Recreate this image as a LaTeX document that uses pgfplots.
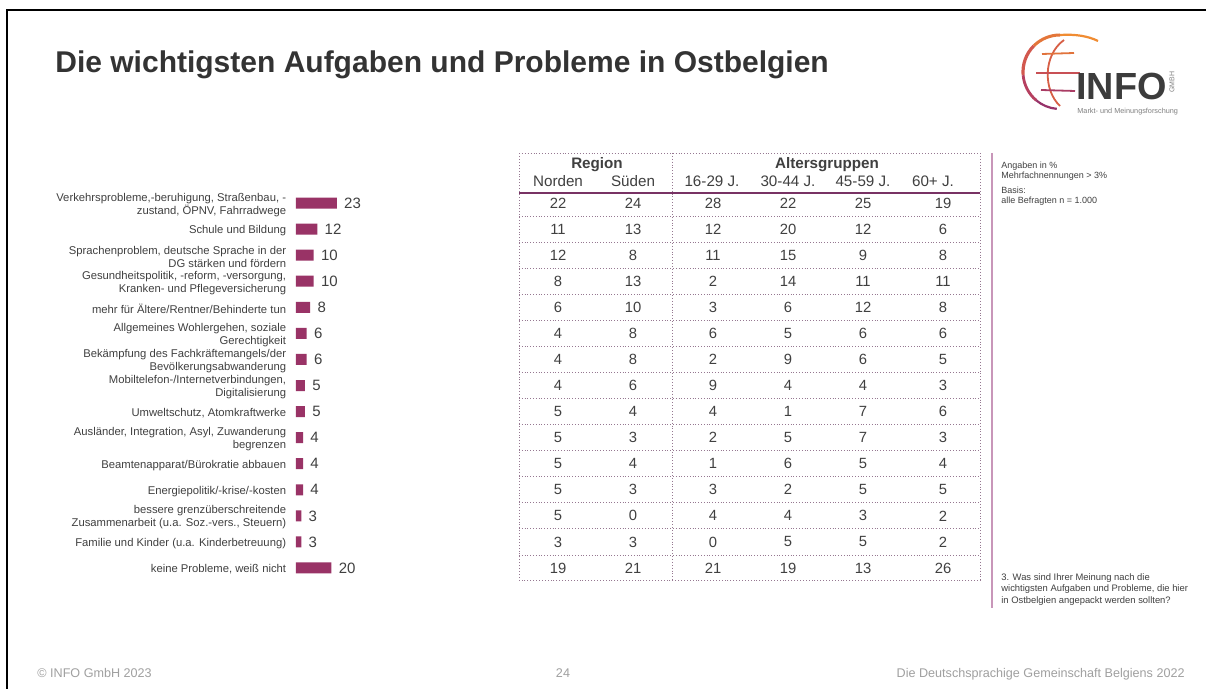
\documentclass[border=0pt]{standalone}
\usepackage{fontspec}
\setmainfont{Liberation Sans}
\usepackage{pgfplots}
\usepackage{pgfplotstable}
\pgfplotsset{compat=1.18}

\definecolor{barpurple}{RGB}{153,51,102}
\definecolor{txt}{RGB}{64,64,64}
\definecolor{ttl}{RGB}{51,51,51}
\definecolor{rulec}{RGB}{120,50,100}
\definecolor{dotc}{RGB}{150,120,145}
\definecolor{side}{RGB}{200,150,185}
\definecolor{foot}{RGB}{160,160,160}
\newcommand\fs[2]{\fontsize{#1}{#2}\selectfont}

% total = Gesamt, N/S = Region, a-d = Altersgruppen
\pgfplotstableread{
total N S a b c d
23 22 24 28 22 25 19
12 11 13 12 20 12 6
10 12 8 11 15 9 8
10 8 13 2 14 11 11
8 6 10 3 6 12 8
6 4 8 6 5 6 6
6 4 8 2 9 6 5
5 4 6 9 4 4 3
5 5 4 4 1 7 6
4 5 3 2 5 7 3
4 5 4 1 6 5 4
4 5 3 3 2 5 5
3 5 0 4 4 3 2
3 3 3 0 5 5 2
20 19 21 21 19 13 26
}\data

\begin{document}
\begin{tikzpicture}[x=0.5pt,y=-0.5pt]
\fill[white] (0,0) rectangle (1206,689);
\draw[black, line width=1.1pt] (7,689) -- (7,10) -- (1206,10);
\coordinate (barorigin) at (296,190);
\coordinate (pageorigin) at (0,0);

% title
\node[anchor=base west, inner sep=0pt, text=ttl, font=\fs{15}{18}\bfseries] at (55,73)
  {Die wichtigsten Aufgaben und Probleme in Ostbelgien};

% logo
\draw[line width=1.1pt, color={rgb,255:red,240;green,140;blue,50}] (1098,41) .. controls (1088,36) and (1075,34) .. (1060,35);
\draw[line width=1.5pt, color={rgb,255:red,228;green,118;blue,58}] ([shift={(90:18.5pt)}]1060,72) arc[start angle=90, end angle=135, radius=18.5pt];
\draw[line width=1.6pt, color={rgb,255:red,210;green,88;blue,78}] ([shift={(135:18.5pt)}]1060,72) arc[start angle=135, end angle=185, radius=18.5pt];
\draw[line width=1.4pt, color={rgb,255:red,182;green,64;blue,96}] ([shift={(185:18.5pt)}]1060,72) arc[start angle=185, end angle=230, radius=18.5pt];
\draw[line width=1.1pt, color={rgb,255:red,150;green,50;blue,105}] ([shift={(230:18.5pt)}]1060,72) arc[start angle=230, end angle=265, radius=18.5pt];
\draw[line width=0.9pt, color={rgb,255:red,215;green,95;blue,70}] (1064,40) .. controls (1043,55) and (1043,90) .. (1060,106);
\draw[line width=0.9pt, color={rgb,255:red,225;green,115;blue,60}] (1042,54) -- (1074,53);
\draw[line width=0.9pt, color={rgb,255:red,200;green,80;blue,85}] (1036,73) -- (1080,73);
\draw[line width=0.9pt, color={rgb,255:red,170;green,60;blue,100}] (1041,90) -- (1075,91);
\node[anchor=base west, inner sep=0pt, text={rgb,255:red,60;green,60;blue,60}, font=\fs{18.9}{20}\bfseries] at (1076,100) {INFO};
\node[rotate=90, inner sep=0pt, text=gray, font=\fs{3.5}{4}] at (1172,82) {GMBH};
\node[anchor=base west, inner sep=0pt, text=gray, font=\fs{3.65}{4}] at (1077,114) {Markt- und Meinungsforschung};

% bar chart
\begin{axis}[
  at={(barorigin)}, anchor=north west,
  scale only axis, width=26.625pt, height=195.5pt,
  xbar, bar width=5.5pt,
  xmin=0, xmax=30, ymin=-0.5, ymax=14.5, y dir=reverse,
  axis line style={draw=none}, tick style={draw=none},
  xtick=\empty, ytick={0,...,14},
  yticklabels={
    {Verkehrsprobleme,-beruhigung, Straßenbau, -\\zustand, ÖPNV, Fahrradwege},
    {Schule und Bildung},
    {Sprachenproblem, deutsche Sprache in der\\DG stärken und fördern},
    {Gesundheitspolitik, -reform, -versorgung,\\Kranken- und Pflegeversicherung},
    {mehr für Ältere/Rentner/Behinderte tun},
    {Allgemeines Wohlergehen, soziale\\Gerechtigkeit},
    {Bekämpfung des Fachkräftemangels/der\\Bevölkerungsabwanderung},
    {Mobiltelefon-/Internetverbindungen,\\Digitalisierung},
    {Umweltschutz, Atomkraftwerke},
    {Ausländer, Integration, Asyl, Zuwanderung\\begrenzen},
    {Beamtenapparat/Bürokratie abbauen},
    {Energiepolitik/-krise/-kosten},
    {bessere grenzüberschreitende\\Zusammenarbeit (u.a. Soz.-vers., Steuern)},
    {Familie und Kinder (u.a. Kinderbetreuung)},
    {keine Probleme, weiß nicht}},
  yticklabel style={font=\fs{5.63}{6.5}, align=right, text=txt, inner sep=0pt, xshift=-0.5pt, yshift=-0.8pt},
  nodes near coords,
  nodes near coords style={font=\fs{7.5}{9}, text=txt, inner sep=0pt, xshift=3.5pt},
  /pgf/number format/assume math mode=true,
  clip=false,
]
\addplot[fill=barpurple, draw=none] table[x=total, y expr=\coordindex] {\data};
\end{axis}

% table frame
\draw[dotc, densely dotted, line width=0.45pt] (519,153) -- (980,153) -- (980,580) -- (519,580) -- cycle;
\draw[dotc, densely dotted, line width=0.45pt] (672,153) -- (672,580);
\foreach \i in {0,...,13}
  \draw[dotc, densely dotted, line width=0.4pt] (519,{216.03+26.07*\i}) -- (980,{216.03+26.07*\i});
\draw[rulec, line width=0.55pt] (519,193) -- (980,193);

% table headers
\begin{scope}[every node/.style={anchor=base, inner sep=0pt, text=txt, font=\fs{7.6}{9}}]
\node[font=\fs{7.6}{9}\bfseries] at (597,169) {Region};
\node[font=\fs{7.6}{9}\bfseries] at (827,169) {Altersgruppen};
\node at (558,187) {Norden};
\node at (633,187) {Süden};
\node at (712,187) {16-29 J.};
\node at (788,187) {30-44 J.};
\node at (863,187) {45-59 J.};
\node at (933,187) {60+ J.};
\end{scope}

% table values
\begin{axis}[
  at={(pageorigin)}, anchor=north west,
  scale only axis, width=603pt, height=344.5pt,
  xmin=0, xmax=1206, ymin=0, ymax=689, y dir=reverse,
  hide axis, clip=false,
  point meta=explicit symbolic,
  nodes near coords,
  every node near coord/.append style={anchor=center, inner sep=0pt, text=txt, font=\fs{7.4}{9}},
]
\addplot[draw=none, mark=none] table[x expr=558, y expr=203+26.07*\coordindex, meta=N] {\data};
\addplot[draw=none, mark=none] table[x expr=633, y expr=203+26.07*\coordindex, meta=S] {\data};
\addplot[draw=none, mark=none] table[x expr=713, y expr=203+26.07*\coordindex, meta=a] {\data};
\addplot[draw=none, mark=none] table[x expr=788, y expr=203+26.07*\coordindex, meta=b] {\data};
\addplot[draw=none, mark=none] table[x expr=863, y expr=203+26.07*\coordindex, meta=c] {\data};
\addplot[draw=none, mark=none] table[x expr=943, y expr=203+26.07*\coordindex, meta=d] {\data};
\end{axis}

% side notes
\draw[side, line width=0.8pt] (992,153) -- (992,608);
\node[anchor=north west, inner sep=0pt, text=txt, font=\fs{4.5}{5}, align=left] at (1001,162)
  {Angaben in \%\\Mehrfachnennungen > 3\%\\[2.5pt]Basis:\\alle Befragten n = 1.000};
\node[anchor=north west, inner sep=0pt, text=txt, font=\fs{4.7}{5.8}, align=left] at (1001,573)
  {3. Was sind Ihrer Meinung nach die\\wichtigsten Aufgaben und Probleme, die hier\\in Ostbelgien angepackt werden sollten?};

% footer
\node[anchor=base west, inner sep=0pt, text=foot, font=\fs{6.3}{7}] at (37,677) {© INFO GmbH 2023};
\node[anchor=base, inner sep=0pt, text=foot, font=\fs{6.3}{7}] at (563,677) {24};
\node[anchor=base east, inner sep=0pt, text=foot, font=\fs{6.3}{7}] at (1185,677) {Die Deutschsprachige Gemeinschaft Belgiens 2022};

\pgfresetboundingbox
\path (0,0) rectangle (1206,689);
\end{tikzpicture}
\end{document}
